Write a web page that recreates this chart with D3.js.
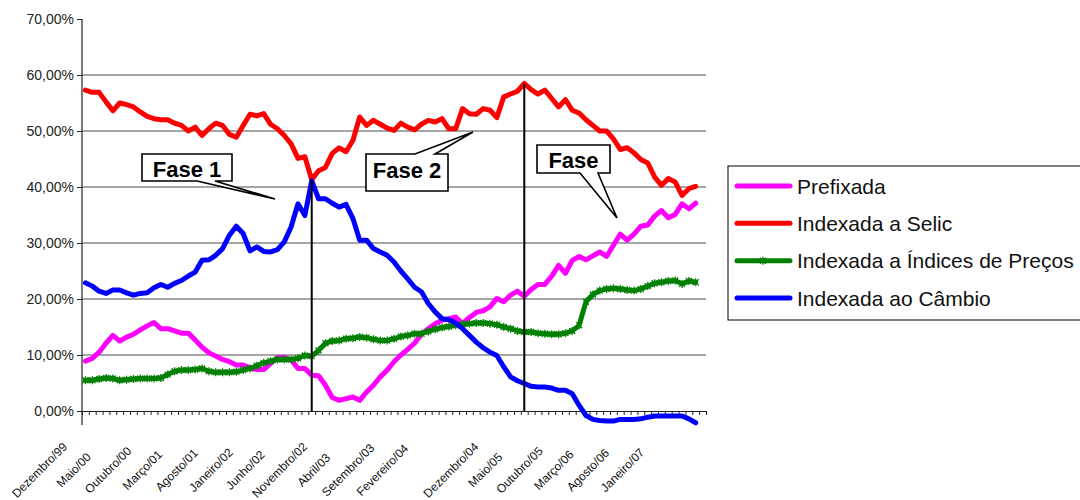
<!DOCTYPE html>
<html>
<head>
<meta charset="utf-8">
<script src="https://cdn.jsdelivr.net/npm/d3@7"></script>
<style>
  body { margin: 0; background: #fff; }
  svg { display: block; font-family: "Liberation Sans", Arial, sans-serif; }
</style>
</head>
<body>
<div id="chart"></div>
<script>
// monthly categories, Dez/99 .. Jun/07 (last month has no value)
const N_MONTHS = 91;
const LABEL_STEP = 5;
const tickLabels = [
  "Dezembro/99", "Maio/00", "Outubro/00", "Março/01", "Agosto/01", "Janeiro/02",
  "Junho/02", "Novembro/02", "Abril/03", "Setembro/03", "Fevereiro/04", "",
  "Dezembro/04", "Maio/05", "Outubro/05", "Março/06", "Agosto/06", "Janeiro/07"
];
const yTicks = [0, 10, 20, 30, 40, 50, 60, 70];

const prefixada = [
  8.9, 9.4, 10.5, 12.1, 13.5, 12.5, 13.2, 13.7, 14.5, 15.2,
  15.8, 14.7, 14.7, 14.3, 13.9, 13.9, 12.7, 11.4, 10.4, 9.8,
  9.2, 8.8, 8.2, 8.2, 7.7, 7.4, 7.4, 8.5, 9.5, 9.6,
  9.1, 7.6, 7.6, 6.4, 6.3, 4.6, 2.4, 1.9, 2.2, 2.5,
  1.9, 3.4, 4.6, 6.1, 7.3, 8.8, 10.0, 11.0, 12.1, 13.7,
  14.7, 15.6, 16.2, 16.5, 16.8, 15.6, 16.7, 17.6, 17.9, 18.6,
  20.1, 19.5, 20.7, 21.4, 20.5, 21.7, 22.6, 22.6, 24.1, 26.0,
  24.6, 26.9, 27.6, 27.0, 27.7, 28.4, 27.6, 29.6, 31.6, 30.5,
  31.6, 33.0, 33.2, 34.8, 35.8, 34.5, 35.1, 37.0, 36.1, 37.1
];
const selic = [
  57.3, 56.9, 56.9, 55.2, 53.6, 55.0, 54.7, 54.3, 53.4, 52.6,
  52.2, 52.0, 52.0, 51.4, 51.0, 50.0, 50.7, 49.2, 50.4, 51.4,
  51.0, 49.4, 48.9, 51.0, 53.0, 52.7, 53.1, 51.2, 50.4, 49.2,
  47.7, 45.1, 45.4, 41.3, 42.9, 43.5, 46.0, 47.0, 46.3, 48.3,
  52.5, 51.0, 51.9, 51.2, 50.5, 50.1, 51.4, 50.7, 50.2, 51.2,
  51.9, 51.6, 52.2, 50.4, 50.4, 54.0, 53.1, 53.0, 54.0, 53.7,
  52.4, 56.1, 56.6, 57.1, 58.5, 57.4, 56.6, 57.3, 55.8, 54.3,
  55.6, 53.7, 53.2, 52.0, 51.0, 50.0, 50.0, 48.6, 46.7, 47.0,
  46.1, 44.9, 44.3, 41.8, 40.3, 41.5, 40.9, 38.5, 39.7, 40.1
];
const indicesPrecos = [
  5.5, 5.5, 5.7, 5.9, 5.8, 5.5, 5.6, 5.7, 5.8, 5.8,
  5.8, 5.9, 6.5, 7.1, 7.3, 7.3, 7.4, 7.6, 7.1, 6.9,
  6.9, 6.9, 7.0, 7.3, 7.6, 8.1, 8.6, 8.9, 9.2, 9.2,
  9.2, 9.4, 9.9, 9.8, 10.8, 12.1, 12.5, 12.6, 12.9, 13.0,
  13.2, 13.1, 12.8, 12.6, 12.6, 12.9, 13.3, 13.5, 13.8, 13.8,
  14.2, 14.6, 14.9, 15.1, 15.3, 15.5, 15.6, 15.7, 15.7, 15.6,
  15.4, 15.0, 14.7, 14.3, 14.1, 14.1, 13.9, 13.8, 13.7, 13.7,
  13.9, 14.3, 15.3, 19.5, 20.8, 21.5, 21.8, 21.9, 21.8, 21.6,
  21.5, 21.8, 22.3, 22.8, 23.0, 23.2, 23.3, 22.7, 23.2, 23.0
];
const cambio = [
  22.9, 22.3, 21.4, 21.0, 21.6, 21.6, 21.1, 20.7, 21.0, 21.1,
  22.0, 22.6, 22.1, 22.8, 23.3, 24.1, 24.8, 26.9, 27.0, 27.8,
  29.0, 31.4, 33.0, 31.7, 28.6, 29.3, 28.5, 28.4, 28.8, 30.2,
  32.9, 37.0, 34.9, 41.1, 37.9, 37.9, 37.1, 36.4, 36.9, 34.4,
  30.5, 30.5, 29.0, 28.4, 27.8, 26.6, 25.0, 23.6, 22.1, 21.3,
  19.2, 17.7, 16.5, 16.3, 15.7, 14.7, 13.5, 12.3, 11.3, 10.5,
  9.9, 7.9, 6.1, 5.4, 4.9, 4.4, 4.3, 4.3, 4.1, 3.7,
  3.7, 3.1, 1.0, -0.8, -1.5, -1.7, -1.8, -1.8, -1.5, -1.5,
  -1.5, -1.4, -1.1, -0.9, -0.9, -0.9, -0.9, -0.9, -1.4, -2.1
];

const seriesNames = ["Prefixada", "Indexada a Selic", "Indexada a Índices de Preços", "Indexada ao Câmbio"];
const seriesColors = ["#ff00ff", "#ff0000", "#008000", "#0000ff"];
const seriesValues = [prefixada, selic, indicesPrecos, cambio];

// month indices of the two phase break lines
const phaseBreaks = [33, 64];

// --------------- scales ---------------
const WIDTH = 1080, HEIGHT = 500;
const LEFT = 82, RIGHT = 706, TOP = 19, BOTTOM = 411;

const svg = d3.select("#chart").append("svg")
  .attr("width", WIDTH)
  .attr("height", HEIGHT);

const x = d3.scaleBand().domain(d3.range(N_MONTHS)).range([LEFT, RIGHT]);
const xEdge = d3.scaleLinear().domain([0, N_MONTHS]).range([LEFT, RIGHT]);
const y = d3.scaleLinear().domain([0, 70]).range([BOTTOM, TOP]);
const cx = i => x(i) + x.bandwidth() / 2;

// --------------- grid ---------------
svg.append("g")
  .selectAll("line")
  .data(yTicks.filter(d => d > 0 && d < 70))
  .join("line")
  .attr("x1", LEFT).attr("x2", RIGHT)
  .attr("y1", d => y(d)).attr("y2", d => y(d))
  .attr("stroke", "#4d4d4d")
  .attr("stroke-width", 1);

// --------------- axes ---------------
const yAxis = svg.append("g")
  .attr("transform", `translate(${LEFT},0)`)
  .call(d3.axisLeft(y)
    .tickValues(yTicks)
    .tickSize(5)
    .tickPadding(3)
    .tickFormat(d => d.toFixed(2).replace(".", ",") + "%"));
yAxis.select(".domain").remove();
yAxis.selectAll("line").attr("stroke", "#222");
yAxis.selectAll("text")
  .attr("font-size", 14)
  .attr("fill", "#222")
  .attr("font-family", "Liberation Sans, Arial, sans-serif");

svg.append("line")
  .attr("x1", LEFT).attr("x2", LEFT)
  .attr("y1", TOP).attr("y2", BOTTOM + 14)
  .attr("stroke", "#222").attr("stroke-width", 1.2);

const xAxis = svg.append("g")
  .attr("transform", `translate(0,${BOTTOM})`)
  .call(d3.axisBottom(xEdge)
    .tickValues(d3.range(N_MONTHS + 1))
    .tickSize(4)
    .tickSizeOuter(0)
    .tickFormat(""));
xAxis.select(".domain").attr("stroke", "#222").attr("stroke-width", 1.2);
xAxis.selectAll("line").attr("stroke", "#222");

// rotated month labels
svg.append("g")
  .selectAll("text")
  .data(tickLabels)
  .join("text")
  .attr("transform", (d, k) => `translate(${cx(k * LABEL_STEP) - 46},470) rotate(-45)`)
  .attr("text-anchor", "middle")
  .attr("dy", "0.35em")
  .attr("font-size", 12)
  .attr("fill", "#111")
  .text(d => d);

// --------------- lines ---------------
const line = d3.line()
  .x((d, i) => cx(i))
  .y(d => y(d));

const lines = svg.append("g");
seriesValues.forEach((vals, s) => {
  lines.append("path")
    .attr("d", line(vals))
    .attr("fill", "none")
    .attr("stroke", seriesColors[s])
    .attr("stroke-width", 5)
    .attr("stroke-linejoin", "round")
    .attr("stroke-linecap", "round");

  if (s === 2) {
    // star markers on the price-index series
    lines.append("g")
      .selectAll("path")
      .data(vals)
      .join("path")
      .attr("transform", (d, i) => `translate(${cx(i)},${y(d)})`)
      .attr("d", "M-3,-3L3,3M-3,3L3,-3M0,-4L0,4")
      .attr("stroke", seriesColors[s])
      .attr("stroke-width", 1.3);
  }
});

// phase break lines
svg.append("g")
  .selectAll("line")
  .data(phaseBreaks)
  .join("line")
  .attr("x1", d => cx(d)).attr("x2", d => cx(d))
  .attr("y1", d => y(d3.max(seriesValues, v => v[d])))
  .attr("y2", BOTTOM)
  .attr("stroke", "#000")
  .attr("stroke-width", 2);

// --------------- callouts ---------------
const callouts = [
  { text: "Fase 1", box: [142, 154, 232, 181], side: "bottom", base: [197, 215], tip: [275, 199], baseline: 177 },
  { text: "Fase 2", box: [366, 154, 448, 191], side: "top", base: [415, 435], tip: [473, 132], baseline: 178 },
  { text: "Fase", box: [537, 145, 610, 173], side: "bottom", base: [580, 598], tip: [617, 218], baseline: 168 }
];

function calloutPath(c) {
  const [x0, y0, x1, y1] = c.box;
  const [b1, b2] = c.base;
  const [tx, ty] = c.tip;
  if (c.side === "bottom") {
    return `M${x0},${y0}H${x1}V${y1}H${b2}L${tx},${ty}L${b1},${y1}H${x0}Z`;
  }
  return `M${x0},${y0}H${b1}L${tx},${ty}L${b2},${y0}H${x1}V${y1}H${x0}Z`;
}

const cg = svg.append("g");
callouts.forEach(c => {
  cg.append("path")
    .attr("d", calloutPath(c))
    .attr("fill", "#fff")
    .attr("stroke", "#000")
    .attr("stroke-width", 1.6)
    .attr("stroke-linejoin", "miter");
  cg.append("text")
    .attr("x", (c.box[0] + c.box[2]) / 2)
    .attr("y", c.baseline)
    .attr("text-anchor", "middle")
    .attr("font-size", 22)
    .attr("font-weight", "bold")
    .attr("fill", "#000")
    .text(c.text);
});

// --------------- legend ---------------
const legend = svg.append("g");
legend.append("rect")
  .attr("x", 728).attr("y", 166)
  .attr("width", 380).attr("height", 154)
  .attr("fill", "#fff")
  .attr("stroke", "#000")
  .attr("stroke-width", 1);

const legendY = d3.scalePoint().domain(d3.range(seriesNames.length)).range([186, 298]);

seriesNames.forEach((name, s) => {
  const ly = legendY(s);
  legend.append("line")
    .attr("x1", 737).attr("x2", 790)
    .attr("y1", ly).attr("y2", ly)
    .attr("stroke", seriesColors[s])
    .attr("stroke-width", 5)
    .attr("stroke-linecap", "round");
  if (s === 2) {
    legend.append("path")
      .attr("transform", `translate(763,${ly})`)
      .attr("d", "M-3,-3L3,3M-3,3L3,-3M0,-4L0,4")
      .attr("stroke", seriesColors[s])
      .attr("stroke-width", 1.3);
  }
  legend.append("text")
    .attr("x", 797)
    .attr("y", ly)
    .attr("dy", "0.36em")
    .attr("font-size", 21)
    .attr("fill", "#111")
    .text(name);
});
</script>
</body>
</html>
